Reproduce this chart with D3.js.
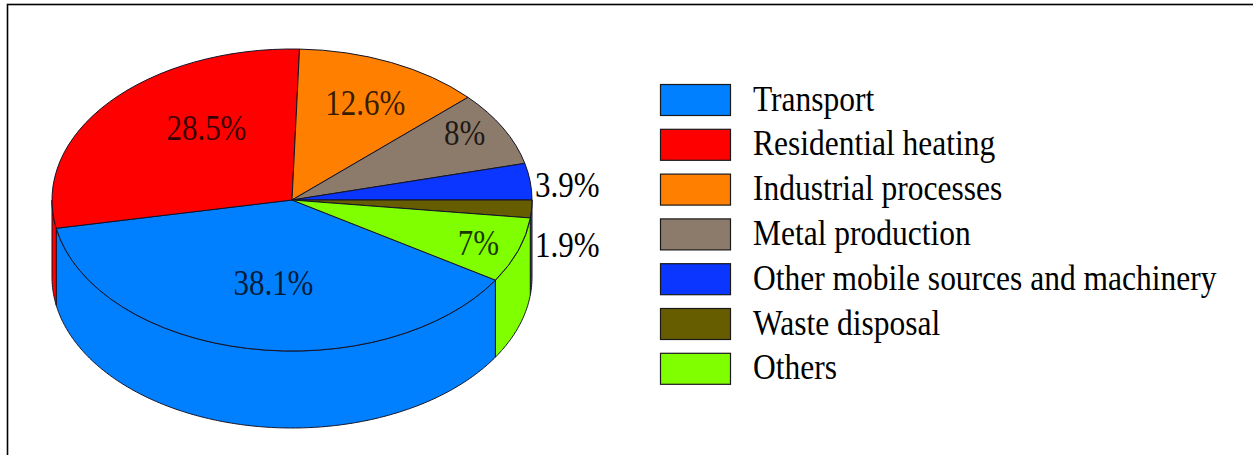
<!DOCTYPE html>
<html>
<head>
<meta charset="utf-8">
<script src="https://cdn.jsdelivr.net/npm/d3@7"></script>
<style>
  html, body { margin: 0; padding: 0; background: #fff; }
  svg { display: block; }
</style>
</head>
<body>
<svg id="chart" width="1253" height="455"></svg>
<script>
// Emission source categories and their shares (%)
const categories = [
  "Transport",
  "Residential heating",
  "Industrial processes",
  "Metal production",
  "Other mobile sources and machinery",
  "Waste disposal",
  "Others"
];
const shares = [38.1, 28.5, 12.6, 8, 3.9, 1.9, 7];
const shareLabels = ["38.1%", "28.5%", "12.6%", "8%", "3.9%", "1.9%", "7%"];
const sliceColors = ["#0080ff", "#ff0000", "#ff8000", "#8c7b6a", "#0a36ff", "#665d00", "#80ff00"];

// Where each percentage sits: fraction along the slice and fraction of the radius,
// or outside the disc to the right (dropped by a fraction of the wall height)
const labelPlacement = [
  { along: 0.48, radius: 0.565 },
  { along: 0.62, radius: 0.59 },
  { along: 0.53, radius: 0.70 },
  { along: 0.41, radius: 0.84 },
  { along: 0.5, outside: true, drop: 0.065 },
  { along: 0.5, outside: true, drop: 0.49 },
  { along: 0.55, radius: 0.83 }
];

const W = 1253, H = 455;
const svg = d3.select("#chart");

// Frame
svg.append("rect")
  .attr("x", 7.5).attr("y", 4.5)
  .attr("width", W + 20).attr("height", H + 20)
  .attr("fill", "none").attr("stroke", "#000").attr("stroke-width", 1.6);

// Tilted disc geometry
const cx = 292, cy = 200, rx = 240, ry = 151, depth = 77;
const fontFamily = "'Liberation Serif', 'Times New Roman', serif";
const fontSize = 31;
const textStretch = 1.17;   // glyphs drawn slightly taller than wide
const edge = "#141428";

const total = d3.sum(shares);
// Rotate so the slice ahead of "Waste disposal" ends at 3 o'clock
const before = d3.sum(shares.slice(0, categories.indexOf("Waste disposal")));
const startAngle = Math.PI / 2 - (before / total) * 2 * Math.PI;

const pie = d3.pie().sort(null).value(d => d.value)
  .startAngle(startAngle).endAngle(startAngle + 2 * Math.PI);
const data = categories.map((c, i) => ({ name: c, value: shares[i], color: sliceColors[i], label: shareLabels[i], place: labelPlacement[i] }));
const arcs = pie(data);

const px = (a, r = 1) => cx + rx * r * Math.sin(a);
const py = (a, r = 1) => cy - ry * r * Math.cos(a);

// Side walls: only the front half of the rim (angles where the rim faces the viewer)
const sideArea = d3.area()
  .x(a => px(a))
  .y0(a => py(a))
  .y1(a => py(a) + depth);

const walls = svg.append("g");
arcs.forEach(d => {
  for (let k = -2; k <= 1; k++) {
    const lo = Math.PI / 2 + 2 * Math.PI * k, hi = 3 * Math.PI / 2 + 2 * Math.PI * k;
    const a0 = Math.max(d.startAngle, lo), a1 = Math.min(d.endAngle, hi);
    if (a1 - a0 > 1e-4) {
      const n = Math.max(2, Math.ceil((a1 - a0) / 0.01));
      const pts = d3.range(n + 1).map(i => a0 + (a1 - a0) * i / n);
      walls.append("path")
        .attr("d", sideArea(pts))
        .attr("fill", d.data.color)
        .attr("stroke", edge).attr("stroke-width", 1)
        .attr("stroke-linejoin", "round");
    }
  }
});

// Top faces: circular wedges squashed into the ellipse
const arcGen = d3.arc().innerRadius(0).outerRadius(rx);
svg.append("g")
  .attr("transform", `translate(${cx},${cy}) scale(1,${ry / rx})`)
  .selectAll("path")
  .data(arcs)
  .join("path")
  .attr("d", arcGen)
  .attr("fill", d => d.data.color)
  .attr("stroke", edge).attr("stroke-width", 1)
  .attr("vector-effect", "non-scaling-stroke")
  .attr("stroke-linejoin", "round");

// Percentage labels
const labels = svg.append("g")
  .attr("font-family", fontFamily)
  .attr("font-size", fontSize);
arcs.forEach(d => {
  const p = d.data.place;
  const a = d.startAngle + (d.endAngle - d.startAngle) * p.along;
  let x, y, anchor, opacity;
  if (p.outside) {
    x = cx + rx + 3;
    y = py(a) + p.drop * depth;
    anchor = "start";
    opacity = 1;
  } else {
    x = px(a, p.radius);
    y = py(a, p.radius);
    anchor = "middle";
    opacity = 0.8;
  }
  labels.append("text")
    .attr("transform", `translate(${x},${y + 0.34 * fontSize}) scale(1,${textStretch})`)
    .attr("text-anchor", anchor)
    .attr("fill", "#000")
    .attr("fill-opacity", opacity)
    .text(d.data.label);
});

// Legend
const legendX = 660, legendTop = 84, rowStep = 44.8, swW = 70, swH = 31, textX = 753;
const legendFont = 31.5;
const legend = svg.append("g")
  .attr("font-family", fontFamily)
  .attr("font-size", legendFont);
const rows = legend.selectAll("g")
  .data(data)
  .join("g")
  .attr("transform", (d, i) => `translate(0,${legendTop + i * rowStep})`);
rows.append("rect")
  .attr("x", legendX + 0.5).attr("y", 0.5)
  .attr("width", swW).attr("height", swH)
  .attr("fill", d => d.color)
  .attr("stroke", "#1a1a1a").attr("stroke-width", 1.2);
rows.append("text")
  .attr("transform", `translate(${textX},${swH / 2 + 11}) scale(1,${textStretch})`)
  .attr("fill", "#000")
  .text(d => d.name);
</script>
</body>
</html>
